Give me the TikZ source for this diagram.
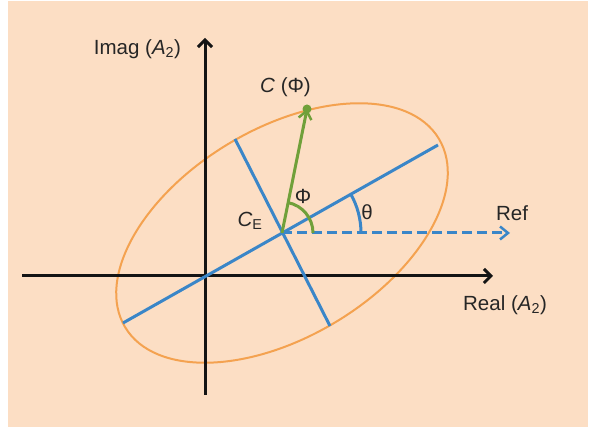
\documentclass[tikz,border=0pt]{standalone}
\usepackage{fontspec}
\setmainfont{Liberation Sans}
\usetikzlibrary{arrows.meta}
\definecolor{peach}{RGB}{252,222,196}
\definecolor{myblue}{RGB}{58,134,200}
\definecolor{mygreen}{RGB}{112,160,58}
\definecolor{myorange}{RGB}{244,162,80}
\definecolor{axisblack}{RGB}{20,20,20}
\tikzset{
  axisline/.style={draw=axisblack, line width=3pt, -{Straight Barb[length=7pt,width=14pt,line width=3pt]}},
  blueline/.style={draw=myblue, line width=3pt},
  lbl/.style={font=\fontsize{20.5}{24}\selectfont, text=black!85, inner sep=0pt},
}
\begin{document}
\begin{tikzpicture}[x=1pt,y=1pt]
\useasboundingbox (0,0) rectangle (597,427);
\fill[white] (0,0) rectangle (597,427);
\fill[peach] (8,0) rectangle (588,426);
% coordinates
\coordinate (Vbot) at (205,32);
\coordinate (Vtop) at (205,389);
\coordinate (Hleft) at (22,151);
\coordinate (Hright) at (493,151);
\coordinate (CE) at (282,194);
\coordinate (RefTip) at (510,194);
\coordinate (MajA) at (123,104);
\coordinate (MajB) at (438,282);
\coordinate (MinA) at (235,288);
\coordinate (MinB) at (330,101);
\coordinate (Ctip) at (307,318);
% ellipse
\draw[myorange, line width=2pt, rotate around={31:(CE)}] (CE) ellipse [x radius=183, y radius=104];
% axes
\draw[axisline] (Vbot) -- (Vtop);
\draw[axisline] (Hleft) -- (Hright);
% ellipse axes
\draw[blueline] (MajA) -- (MajB);
\draw[blueline] (MinA) -- (MinB);
% ref dashed
\draw[myblue, line width=3pt, dash pattern=on 10pt off 5pt, -{Straight Barb[length=8pt,width=13pt,line width=2.5pt]}] (CE) -- (RefTip);
% theta arc
\draw[blueline] ([shift={(0:79)}]CE) arc[start angle=0, end angle=29.5, radius=79];
% green vector
\draw[mygreen, line width=3pt, -{Straight Barb[length=8pt,width=13pt,line width=2.5pt]}] (CE) -- (Ctip);
\fill[mygreen] (Ctip) circle[radius=4.5];
\draw[mygreen, line width=3pt] ([shift={(0:31)}]CE) arc[start angle=0, end angle=79, radius=31];
% labels
\node[lbl] (limag) at (137.5,378) {Imag (\textit{A}\textsubscript{2})};
\node[lbl] (lreal) at (505,122) {Real (\textit{A}\textsubscript{2})};
\node[lbl] (lref) at (512,214) {Ref};
\node[lbl] (lC) at (285.5,340) {\textit{C} (Φ)};
\node[lbl] (lphi) at (303,231) {Φ};
\node[lbl] (ltheta) at (367,215) {θ};
\node[lbl] (lCE) at (250,206) {\textit{C}\textsubscript{E}};
\end{tikzpicture}
\end{document}
